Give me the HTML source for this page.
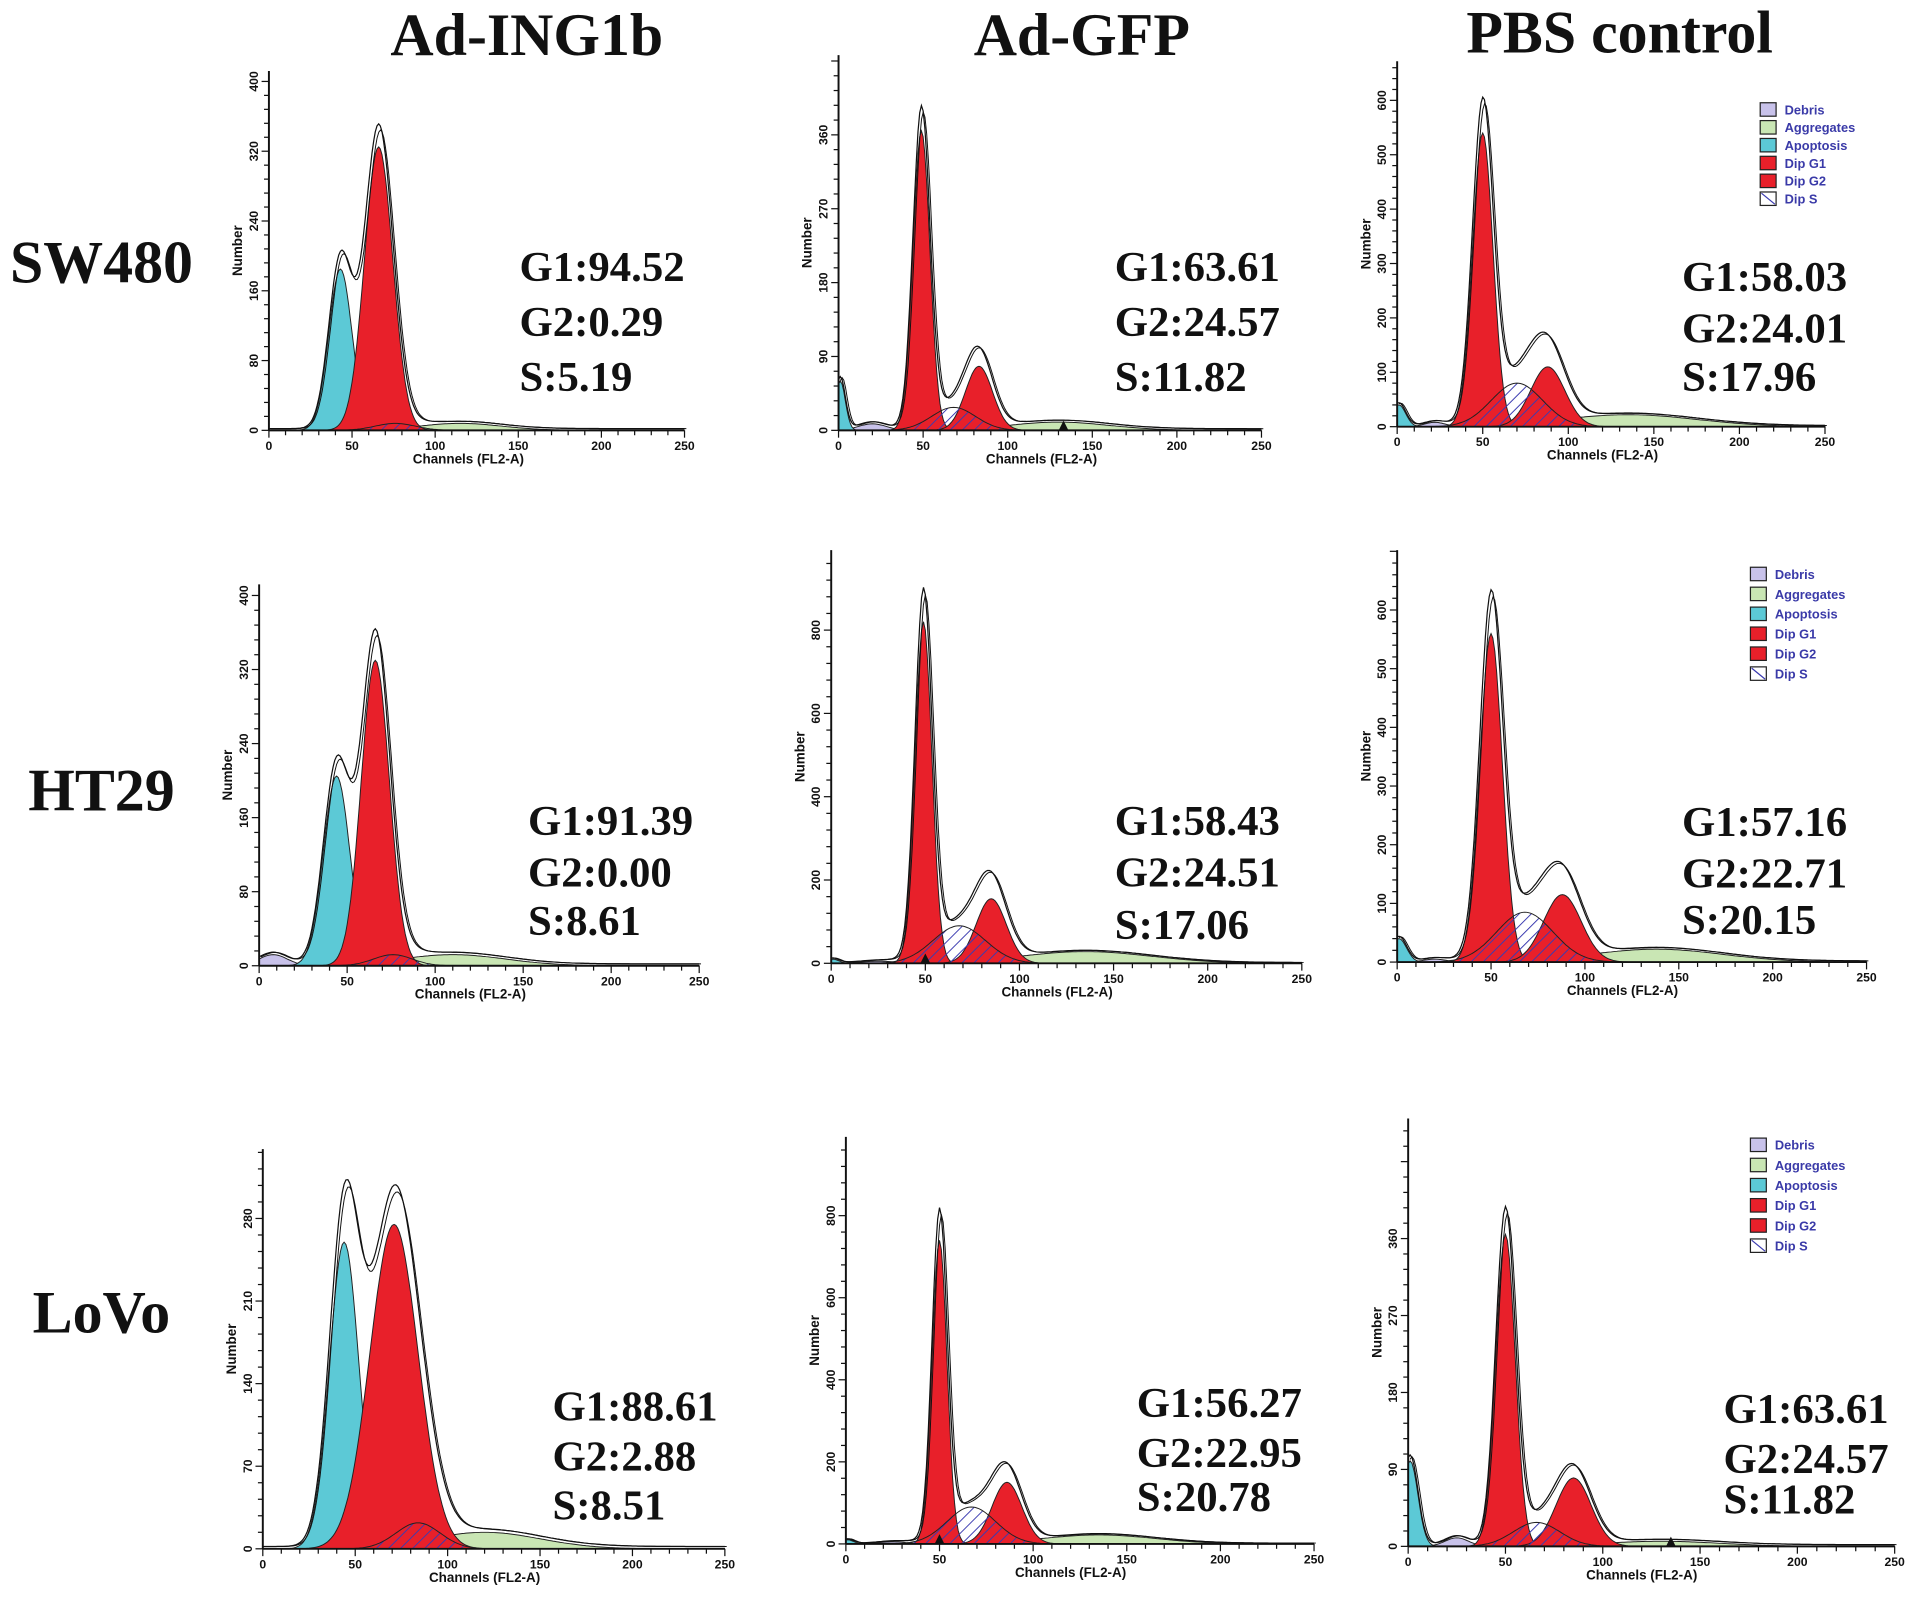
<!DOCTYPE html>
<html><head><meta charset="utf-8"><style>
html,body{margin:0;padding:0;background:#fff;}
svg{display:block;}
.ttl{font-family:"Liberation Serif",serif;font-weight:bold;font-size:49px;fill:#111;}
.row{font-family:"Liberation Serif",serif;font-weight:bold;font-size:49px;fill:#111;}
.st{font-family:"Liberation Serif",serif;font-weight:bold;font-size:35px;fill:#111;}
.tk{font-family:"Liberation Sans",sans-serif;font-size:10px;fill:#111;font-weight:bold;}
.ax{font-family:"Liberation Sans",sans-serif;font-size:11px;fill:#111;font-weight:bold;}
.lg{font-family:"Liberation Sans",sans-serif;font-size:10.5px;fill:#3a3aa8;font-weight:bold;}
</style></head><body>
<svg id="fig" width="1913" height="1599" viewBox="0 0 1565 1308" xmlns="http://www.w3.org/2000/svg">
<defs>
<pattern id="hatch" patternUnits="userSpaceOnUse" width="7" height="7" patternTransform="rotate(45)">
<line x1="0" y1="0" x2="0" y2="7" stroke="#3b3bb0" stroke-width="1.6"/>
</pattern>
</defs>
<text class="ttl" x="431" y="45" text-anchor="middle">Ad-ING1b</text>
<text class="ttl" x="885" y="45" text-anchor="middle">Ad-GFP</text>
<text class="ttl" x="1325" y="43" text-anchor="middle">PBS control</text>
<text class="row" x="83" y="231" text-anchor="middle">SW480</text>
<text class="row" x="83" y="663" text-anchor="middle">HT29</text>
<text class="row" x="83" y="1090" text-anchor="middle">LoVo</text>
<g id="panels"></g>
</svg>
<script>
// Panel data: component peaks [mean channel, sd, height]
const panelIds = ["sw480-ad-ing1b","sw480-ad-gfp","sw480-pbs","ht29-ad-ing1b","ht29-ad-gfp","ht29-pbs","lovo-ad-ing1b","lovo-ad-gfp","lovo-pbs"];
const yTicks = [[0,80,160,240,320,400],[0,90,180,270,360],[0,100,200,300,400,500,600],[0,80,160,240,320,400],[0,200,400,600,800],[0,100,200,300,400,500,600],[0,70,140,210,280],[0,200,400,600,800],[0,90,180,270,360]];
const xTicks = [0,50,100,150,200,250];
const apoptosis = [[43,7,185],[1,3,60],[1,4,40],[44,7.5,205],[1,3,10],[1,4,40],[44,8,260],[1,3,10],[1,4,100]];
const debris = [[10,6,0],[20,8,8],[22,6,8],[8,8,12],[25,10,5],[20,6,5],[12,8,0],[25,8,5],[25,6,10]];
const dipG1 = [[66,8.5,325],[49,5,365],[50,6,540],[66,8,330],[49,4.5,820],[50,6,560],[71,13,275],[50,4,740],[50,5,365]];
const dipG2 = [[90,8,0],[83,8,78],[88,10,110],[90,8,0],[85,8,155],[88,10,115],[90,8,0],[86,8,150],[85,9,80]];
const dipS = [[76,12,8],[68,13,28],[70,15,80],[76,11,12],[68,14,90],[68,15,85],[84,12,22],[67,13,90],[66,12,28]];
const aggregates = [[115,25,8],[130,30,10],[135,40,22],[110,30,12],[135,35,28],[138,35,22],[120,30,14],[135,30,22],[130,30,6]];
const markers = [null,133,null,null,50,null,null,50,135];
const statsG1 = ["94.52","63.61","58.03","91.39","58.43","57.16","88.61","56.27","63.61"];
const statsG2 = ["0.29","24.57","24.01","0.00","24.51","22.71","2.88","22.95","24.57"];
const statsS = ["5.19","11.82","17.96","8.61","17.06","20.15","8.51","20.78","11.82"];
const hasLegend = [false,false,true,false,false,true,false,false,true];
const legendNames = ["Debris","Aggregates","Apoptosis","Dip G1","Dip G2","Dip S"];
// layout (viewBox units)
const geom = [
 {x0:220,x1:560,y0:352,top:58,ymax:400*1.03,sx:425,sy:[230,275,320],lx:1440,ly:84,ls:14.6},
 {x0:686,x1:1032,y0:352,top:45,ymax:360*1.27,sx:912,sy:[230,275,320]},
 {x0:1143,x1:1493,y0:349,top:50,ymax:600*1.12,sx:1376,sy:[238,280,320],lx:1440,ly:84,ls:14.6},
 {x0:212,x1:572,y0:790,top:478,ymax:400*1.03,sx:432,sy:[683,725,765]},
 {x0:680,x1:1065,y0:788,top:450,ymax:800*1.24,sx:912,sy:[683,725,768]},
 {x0:1143,x1:1527,y0:787,top:450,ymax:600*1.17,sx:1376,sy:[684,726,764],lx:1432,ly:464,ls:16.3},
 {x0:215,x1:593,y0:1267,top:940,ymax:280*1.21,sx:452,sy:[1162,1203,1243]},
 {x0:692,x1:1075,y0:1263,top:930,ymax:800*1.24,sx:930,sy:[1159,1200,1236]},
 {x0:1152,x1:1550,y0:1265,top:915,ymax:360*1.39,sx:1410,sy:[1164,1205,1238],lx:1432,ly:931,ls:16.5}
];
const NS="http://www.w3.org/2000/svg";
const root=document.getElementById('panels');
function mk(tag,attrs,parent){const e=document.createElementNS(NS,tag);for(const k in attrs)e.setAttribute(k,attrs[k]);parent.appendChild(e);return e;}
function gauss(c,p){return p[2]*Math.exp(-0.5*Math.pow((c-p[0])/p[1],2));}
const chans=[];for(let c=0;c<=250;c+=1)chans.push(c);

panelIds.forEach((id,i)=>{
 const G=geom[i];
 const g=mk('g',{},root);
 
 
 const X=c=>G.x0+(G.x1-G.x0)*c/250;
 const Y=v=>G.y0-(G.y0-G.top)*v/G.ymax;
 function area(p,fill,name){
  if(p[2]<=0)return;
  let d='M'+X(chans[0])+','+Y(0);
  chans.forEach(c=>{d+=' L'+X(c).toFixed(1)+','+Y(gauss(c,p)).toFixed(1);});
  d+=' L'+X(250)+','+Y(0)+'Z';
  const e=mk('path',{d:d,fill:fill,stroke:'#222','stroke-width':0.8},g);
  
  
 }
 area(aggregates[i],'#c9e6b4','aggregates-area');
 area(debris[i],'#c8c2ea','debris-area');
 area(apoptosis[i],'#5cc9d6','apoptosis-area');
 area(dipG1[i],'#e8202a','dip-g1-area');
 area(dipG2[i],'#e8202a','dip-g2-area');
 area(dipS[i],'url(#hatch)','dip-s-area');
 let d='';let d2='';
 chans.forEach((c,k)=>{
  const v=gauss(c,apoptosis[i])+gauss(c,debris[i])+gauss(c,dipG1[i])+gauss(c,dipG2[i])+gauss(c,dipS[i])+gauss(c,aggregates[i]);
  const vv=v*1.05+2;
  d+=(k?' L':'M')+X(c).toFixed(1)+','+Y(vv).toFixed(1);
  d2+=(k?' L':'M')+(X(c)+1.5).toFixed(1)+','+Y(vv*0.98).toFixed(1);
 });
 const env=mk('path',{d:d,fill:'none',stroke:'#111','stroke-width':1},g);
 
 
 const env2=mk('path',{d:d2,fill:'none',stroke:'#111','stroke-width':0.8},g);
 
 
 const ya=mk('line',{x1:G.x0,y1:G.y0,x2:G.x0,y2:G.top,stroke:'#111','stroke-width':1.6},g);
 
 
 const xa=mk('line',{x1:G.x0,y1:G.y0,x2:G.x1,y2:G.y0,stroke:'#111','stroke-width':1.6},g);
 
 
 for(let c=0;c<=250;c+=10){
  const t=mk('line',{x1:X(c),y1:G.y0,x2:X(c),y2:G.y0+(c%50?4:6),stroke:'#111','stroke-width':1},g);
  
  
 }
 xTicks.forEach(c=>{
  const t=mk('text',{x:X(c),y:G.y0+16,'text-anchor':'middle',class:'tk'},g);
  t.textContent=c;
  
  
 });
 if(markers[i]!==null){
  const mx=X(markers[i]);
  const m=mk('polygon',{points:(mx-4)+','+(G.y0)+' '+(mx+4)+','+(G.y0)+' '+mx+','+(G.y0-8),fill:'#111'},g);
  
  
 }
 const yt=yTicks[i];const step=yt[1]/5;
 for(let v=0;v<=G.ymax;v+=step){
  const t=mk('line',{x1:G.x0-(Math.abs(v/yt[1]-Math.round(v/yt[1]))<1e-6?6:4),y1:Y(v),x2:G.x0,y2:Y(v),stroke:'#111','stroke-width':1},g);
  
  
 }
 yt.forEach(v=>{
  const t=mk('text',{x:G.x0-9,y:Y(v),'text-anchor':'middle',class:'tk',transform:'rotate(-90 '+(G.x0-9)+' '+Y(v)+')'},g);
  t.textContent=v;
  
  
 });
 const xt=mk('text',{x:X(120),y:G.y0+27,'text-anchor':'middle',class:'ax'},g);
 xt.textContent='Channels (FL2-A)';
 
 
 const yc=(G.y0+G.top)/2;
 const ytt=mk('text',{x:G.x0-22,y:yc,'text-anchor':'middle',class:'ax',transform:'rotate(-90 '+(G.x0-22)+' '+yc+')'},g);
 ytt.textContent='Number';
 
 
 [['G1:',statsG1[i]],['G2:',statsG2[i]],['S:',statsS[i]]].forEach((s,k)=>{
  const t=mk('text',{x:G.sx,y:G.sy[k],class:'st'},g);
  t.textContent=s[0]+s[1];
  
  
 });
 if(hasLegend[i]){
  const fills=['#c8c2ea','#c9e6b4','#5cc9d6','#e8202a','#e8202a','#fff'];
  legendNames.forEach((n,k)=>{
   const yy=G.ly+k*G.ls;
   const r=mk('rect',{x:G.lx,y:yy,width:13,height:11,fill:fills[k],stroke:'#222','stroke-width':1},g);
   
   
   if(k===5){mk('line',{x1:G.lx+1,y1:yy+1,x2:G.lx+12,y2:yy+10,stroke:'#3b3bb0','stroke-width':1},g);}
   const t=mk('text',{x:G.lx+20,y:yy+9.5,class:'lg'},g);
   t.textContent=n;
   
   
  });
 }
});
</script>
</body></html>
